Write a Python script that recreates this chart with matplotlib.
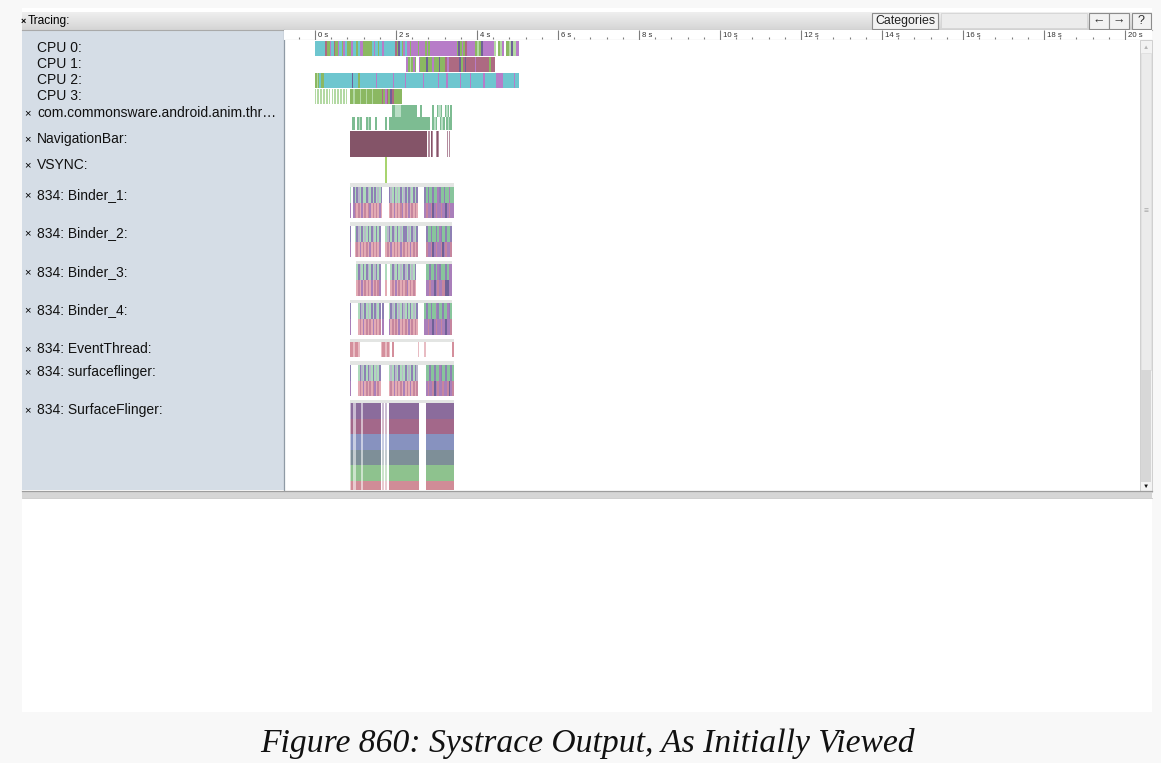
import numpy as np
import matplotlib.pyplot as plt
from matplotlib.patches import Rectangle
from matplotlib.colors import LinearSegmentedColormap

plt.rcParams['font.family'] = ['Liberation Sans', 'DejaVu Sans']

W, H = 1161, 763
PX0, PPS = 315.0, 40.5      # pixel x of 0 s and pixels per second on the timeline

# ---------------- data ----------------
ruler_major = [0, 2, 4, 6, 8, 10, 12, 14, 16, 18, 20]
ruler_labels = ['0 s', '2 s', '4 s', '6 s', '8 s', '10 s', '12 s', '14 s', '16 s', '18 s', '20 s']

track_labels = ['CPU 0:', 'CPU 1:', 'CPU 2:', 'CPU 3:',
                'com.commonsware.android.anim.thr\u2026', 'NavigationBar:', 'VSYNC:',
                '834: Binder_1:', '834: Binder_2:', '834: Binder_3:', '834: Binder_4:',
                '834: EventThread:', '834: surfaceflinger:', '834: SurfaceFlinger:']
track_closable = [False, False, False, False] + [True] * 10

# CPU rows: segment edges (s) and one colour key per segment
cpu0_edges = [0.00, 0.25, 0.30, 0.36, 0.40, 0.46, 0.50, 0.56, 0.60, 0.66,
              0.70, 0.74, 0.80, 0.90, 0.94, 1.02, 1.06, 1.12, 1.19, 1.40,
              1.45, 1.49, 1.55, 1.58, 1.65, 1.70, 1.98, 2.02, 2.06, 2.10,
              2.14, 2.18, 2.22, 2.27, 2.35, 2.38, 2.55, 2.58, 2.72, 2.76,
              2.80, 2.84, 2.89, 3.50, 3.54, 3.58, 3.62, 3.66, 3.70, 3.75,
              3.96, 4.00, 4.04, 4.10, 4.16, 4.41, 4.46, 4.52, 4.56, 4.62,
              4.66, 4.72, 4.78, 4.84, 4.90, 4.96, 5.04]
cpu0_colors = "crgpcrgpcgpcgpcgcpgcpcgcpcrgvcgpcpgpgpgpgppgvgpgrpglgvplwglpwglvlp"

cpu1_edges = [2.25, 2.29, 2.34, 2.38, 2.42, 2.46, 2.50, 2.56, 2.60, 2.75,
              2.78, 2.90, 2.93, 3.05, 3.08, 3.20, 3.26, 3.30, 3.55, 3.60,
              3.65, 3.70, 3.74, 3.95, 3.98, 4.30, 4.34, 4.44]
cpu1_colors = "pglgpgwpgvgpgvgrprvgrvrprgr"

cpu2_edges = [0.00, 0.04, 0.07, 0.11, 0.15, 0.22, 0.91, 0.95, 1.07, 1.10,
              1.50, 1.54, 1.92, 1.96, 2.21, 2.25, 2.66, 2.70, 3.03, 3.07,
              3.24, 3.28, 3.57, 3.61, 3.82, 3.86, 4.15, 4.20, 4.46, 4.64,
              4.91, 4.95, 5.04]
cpu2_colors = "glgcgcvcgcpcpcpcpcpcpcpcpcpcpcpc"

cpu3_edges = [0.00, 0.03, 0.06, 0.10, 0.13, 0.17, 0.20, 0.24, 0.27, 0.31,
              0.34, 0.38, 0.41, 0.45, 0.48, 0.52, 0.55, 0.59, 0.62, 0.66,
              0.69, 0.73, 0.76, 0.80, 0.86, 0.95, 0.98, 1.10, 1.13, 1.25,
              1.28, 1.40, 1.43, 1.65, 1.69, 1.73, 1.77, 1.81, 1.85, 1.89,
              1.94, 2.14]
cpu3_colors = "lwlwlwlwlwlwlwlwlwlwlwlwglglglglgrgprgvrg"

# app thread (two nesting levels)
app_top_edges = [1.90, 1.98, 2.12, 2.52, 2.60, 2.64, 2.89, 2.93, 3.00, 3.04,
                 3.10, 3.14, 3.20, 3.24, 3.28, 3.32, 3.34, 3.38]
app_top_colors = "tut t t tut tut t"
app_bot_edges = [0.91, 0.98, 1.04, 1.08, 1.12, 1.16, 1.26, 1.30, 1.34, 1.38,
                 1.48, 1.52, 1.73, 1.77, 1.82, 2.85, 2.90, 2.94, 2.98, 3.02,
                 3.08, 3.12, 3.16, 3.20, 3.24, 3.28, 3.32, 3.38]
app_bot_colors = "t tut tut t t t tut tut tut"

nav_edges = [0.87, 2.76, 2.80, 2.83, 2.86, 2.88, 2.92, 2.98, 3.01, 3.03,
             3.06, 3.25, 3.28, 3.31, 3.34]
nav_colors = "m n mn nmn n n"

vsync_edges = [1.74, 1.79]
vsync_colors = "y"

# thread rows sampled in 0.04 s cells starting at 0.86 s ('_' = idle)
binder1_top = ("a_babqabaabqababaqab" "____" "bqabaqabaqbabqabab" "____" "bhbhhbhhebhhbhhehh")
binder1_bot = ("e_edsdsesdsdesdsdses" "____" "sdsesdsdesdsesdsds" "____" "edeedvedeedeevedee")
binder2_top = ("b__abqabaqababqabab" "___" "aqbabqabaqabbaqabqab" "_____" "bhhbhhbhebhhbhhb" "_")
binder2_bot = ("e__sdsesdsdsesdsdse" "___" "sdsesdsdsesdsdsesdsd" "_____" "deedvedeedvedeed" "_")
binder3_top = ("____" "abqababqabaqbab" "___" "a" "__" "abqabaqabqabaqab" "______" "hhbhhbhebhhhbhee" "_")
binder3_bot = ("____" "sdsesdsdsesdsde" "___" "s" "__" "sdsesdsdsdesdsds" "______" "eedeevedeeddvvee" "_")
binder4_top = ("b" "____" "abqabaqababqab" "_" "b" "___" "abqabaqabqababaqab" "____" "hbhhbhhebhhbhhebh" "_")
binder4_bot = ("e" "____" "sdsesdsdsesdsd" "_" "e" "___" "esdsdsesdsdsesdsds" "____" "eedeevedeedeeveed" "_")
event_cells = ("kkjkkj" "_____________" "jkkjkj" "_" "k" "_______________" "j" "___" "j" "________________" "k")
sflinger_top = ("b" "____" "abqababqabaqab" "_____" "aqabqabaqabaqababq" "_____" "hhbhhbhhebhhbhhbh")
sflinger_bot = ("e" "____" "sdsesdsdsdesds" "_____" "sdsesdsdsesdsesdsd" "_____" "edeedvedeedeedved")
sf_mask = ("oxoo" "xxxoxxxxxxxxxxx" "_o_o_" "xxxxxxxxxxxxxxxxxxx" "____" "xxxxxxxxxxxxxxxxx")
sf_band_colors = ['#8b6c9c', '#a3688a', '#8792bf', '#7e8f98', '#8ec28e', '#d08c97']

CELL_T0, CELL_W = 0.86, 0.04

PALETTE = {
    'c': '#6ec6cf', 'p': '#b77cc8', 'g': '#8bb862', 'r': '#ad6a82', 'v': '#6f6197',
    'l': '#b3d9a3', 'w': '#ffffff', 't': '#7dbc92', 'u': '#b9dec5', 'm': '#845468',
    'n': '#b48c9e', 'y': '#a8d46f', 'a': '#addabb', 'b': '#8e80b4', 'q': '#b8b8ca',
    'h': '#88c59c', 's': '#e3abb4', 'd': '#c6869e', 'e': '#a97fba', 'k': '#d48f9c',
    'j': '#e8bcc3',
}

# ---------------- helpers ----------------
def px_to_s(x):
    return (x - PX0) / PPS


def draw_edges(ax, edges, colors, y, h):
    for t0, t1, ch in zip(edges[:-1], edges[1:], colors):
        if ch == ' ':
            continue
        ax.broken_barh([(t0, t1 - t0)], (y, h), facecolors=PALETTE[ch], linewidth=0)


def runs(pattern):
    i = 0
    while i < len(pattern):
        j = i
        while j < len(pattern) and pattern[j] == pattern[i]:
            j += 1
        yield i, j, pattern[i]
        i = j


def draw_cells(ax, pattern, y, h):
    for i, j, ch in runs(pattern):
        if ch == '_':
            continue
        ax.broken_barh([(CELL_T0 + i * CELL_W, (j - i) * CELL_W)], (y, h),
                       facecolors=PALETTE[ch], linewidth=0)


def draw_header(ax, pattern, y, h):
    used = [i for i, ch in enumerate(pattern) if ch != '_']
    t0 = CELL_T0 + used[0] * CELL_W
    t1 = CELL_T0 + (used[-1] + 1) * CELL_W
    ax.broken_barh([(t0, t1 - t0)], (y, h), facecolors='#e3e5e3', linewidth=0)


# ---------------- figure chrome ----------------
fig = plt.figure(figsize=(W / 100, H / 100), dpi=100)
fig.patch.set_facecolor('#f8f8f8')
bg = fig.add_axes([0, 0, 1, 1])
bg.set_xlim(0, W)
bg.set_ylim(H, 0)
bg.axis('off')

bg.add_patch(Rectangle((22, 8), 1130, 704, facecolor='white', edgecolor='none'))

# header bar
grad = LinearSegmentedColormap.from_list('hdr', ['#efefef', '#d5d5d5'])
bg.imshow(np.linspace(0, 1, 20)[:, None], extent=[22, 1152, 30, 12.5], cmap=grad,
          aspect='auto', zorder=1)
bg.plot([22, 1152], [30, 30], color='#a9a9a9', lw=0.8, zorder=2)
bg.text(20.5, 21, '\u00d7', fontsize=6.5, fontweight='bold', va='center', ha='left', zorder=3)
bg.text(27.5, 21, 'Tracing:', fontsize=8.6, va='center', ha='left', zorder=3)

bg.add_patch(Rectangle((872, 12.5), 66, 16, facecolor='#f2f2f2', edgecolor='#8c8c8c', lw=0.8, zorder=2))
bg.text(905, 21, 'Categories', fontsize=8.9, ha='center', va='center', color='#222222', zorder=3)
bg.add_patch(Rectangle((941, 13), 146, 15, facecolor='#ececec', edgecolor='#d4d4d4', lw=0.6, zorder=2))
for x0, w, lab in [(1089, 20, '\u2190'), (1109, 20, '\u2192'), (1131.5, 19, '?')]:
    bg.add_patch(Rectangle((x0, 12.5), w, 16, facecolor='#f2f2f2', edgecolor='#8c8c8c', lw=0.8, zorder=2))
    bg.text(x0 + w / 2, 21, lab, fontsize=9, ha='center', va='center', color='#333333', zorder=3)

# left label panel
bg.add_patch(Rectangle((22, 30), 262, 460, facecolor='#d5dde6', edgecolor='none', zorder=1))
bg.plot([283.6, 283.6], [30, 490], color='#8f9aa5', lw=0.9, zorder=2)

label_y = [48, 64, 80, 96, 113, 139, 165, 195, 233, 272, 310, 349, 372, 410]
for lab, yy, closable in zip(track_labels, label_y, track_closable):
    if closable:
        bg.text(24, yy, '\u00d7', fontsize=8, va='center', ha='left', zorder=3)
    bg.text(37, yy, lab, fontsize=10, va='center', ha='left', color='#111111', zorder=3)

# scrollbar
bg.add_patch(Rectangle((1139.5, 40), 12.5, 452, facecolor='#f3f3f3', edgecolor='#c9c9c9', lw=0.6, zorder=1))
bg.add_patch(Rectangle((1140.5, 53), 10.5, 317, facecolor='#ebebeb', edgecolor='#dcdcdc', lw=0.5, zorder=2))
bg.add_patch(Rectangle((1140.5, 370), 10.5, 112, facecolor='#d7d7d7', edgecolor='none', zorder=2))
bg.text(1145.8, 47.5, '\u25b2', fontsize=4.5, ha='center', va='center', color='#b5b5b5', zorder=3)
bg.text(1145.8, 212, '\u2261', fontsize=6, ha='center', va='center', color='#a5a5a5', zorder=3)
bg.text(1145.8, 486, '\u25bc', fontsize=4.5, ha='center', va='center', color='#111111', zorder=3)

# splitter under the timeline
bg.add_patch(Rectangle((22, 490.5), 1130, 7.5, facecolor='#d6d6d6', edgecolor='none', zorder=2))
bg.plot([22, 1152], [490.5, 490.5], color='#9d9d9d', lw=0.9, zorder=3)
bg.plot([22, 1152], [498, 498], color='#c6c6c6', lw=0.6, zorder=3)

# caption
bg.text(587, 752, 'Figure 860: Systrace Output, As Initially Viewed', fontsize=24.2,
        family=['Liberation Serif', 'DejaVu Serif'], style='italic', ha='center',
        va='baseline', color='#111111')

# ---------------- time ruler ----------------
ruler = fig.add_axes([284 / W, 1 - 40 / H, (1152 - 284) / W, 10 / H])
ruler.set_xlim(px_to_s(284), px_to_s(1152))
ruler.set_ylim(10, 0)
ruler.axis('off')
ruler.add_patch(Rectangle((px_to_s(284), 0), px_to_s(1152) - px_to_s(284), 10,
                          facecolor='white', edgecolor='none'))
ruler.vlines(ruler_major, 0, 10, color='#7d7d7d', lw=0.8)
minor = [t for t in np.arange(-0.4, 20.01, 0.4) if abs(t - round(t / 2) * 2) > 1e-6]
ruler.vlines(minor, 7.2, 9, color='#7d7d7d', lw=0.8)
for t, lab in zip(ruler_major, ruler_labels):
    ruler.text(t + 0.07, 5.4, lab, fontsize=5.6, va='center', ha='left', color='#333333')
ruler.axhline(9.8, color='#9a9a9a', lw=0.8)

# ---------------- tracks ----------------
ax = fig.add_axes([284 / W, 1 - 490 / H, (1139 - 284) / W, 450 / H])
ax.set_xlim(px_to_s(284), px_to_s(1139))
ax.set_ylim(490, 40)
ax.axis('off')

draw_edges(ax, cpu0_edges, cpu0_colors, 41, 15)
draw_edges(ax, cpu1_edges, cpu1_colors, 57, 15)
draw_edges(ax, cpu2_edges, cpu2_colors, 73, 15)
draw_edges(ax, cpu3_edges, cpu3_colors, 89, 15)
draw_edges(ax, app_top_edges, app_top_colors, 104.5, 12.5)
draw_edges(ax, app_bot_edges, app_bot_colors, 117, 13)
draw_edges(ax, nav_edges, nav_colors, 131, 26)
draw_edges(ax, vsync_edges, vsync_colors, 157, 26)

binder_rows = [(binder1_top, binder1_bot, 183),
               (binder2_top, binder2_bot, 222),
               (binder3_top, binder3_bot, 260.5),
               (binder4_top, binder4_bot, 299.5),
               (sflinger_top, sflinger_bot, 361)]
for top, bot, y0 in binder_rows:
    draw_header(ax, top, y0, 3.5)
    draw_cells(ax, top, y0 + 3.5, 16)
    draw_cells(ax, bot, y0 + 19.5, 15.5)

draw_header(ax, event_cells, 338.5, 3)
draw_cells(ax, event_cells, 341.5, 15)

draw_header(ax, sf_mask, 399.5, 3.5)
for k, col in enumerate(sf_band_colors):
    y0 = 403 + k * 15.6
    for i, j, ch in runs(sf_mask):
        if ch == '_':
            continue
        ax.broken_barh([(CELL_T0 + i * CELL_W, (j - i) * CELL_W)], (y0, 15.6),
                       facecolors=col, alpha=1.0 if ch == 'x' else 0.45, linewidth=0)

fig.savefig('out.png', dpi=100, facecolor=fig.get_facecolor())
